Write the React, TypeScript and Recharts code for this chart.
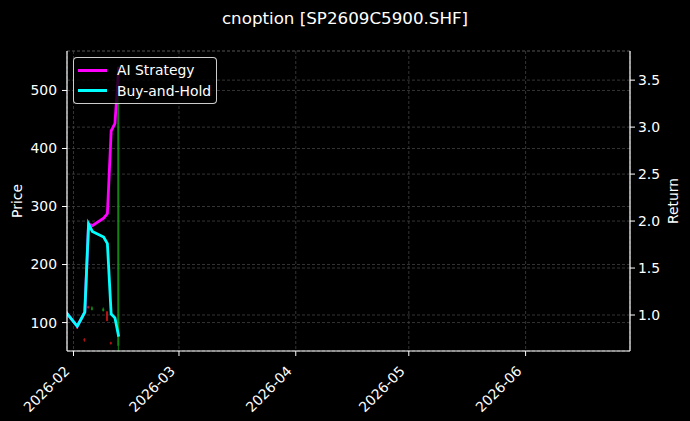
import React from "react";
import {
  ComposedChart,
  Line,
  Bar,
  XAxis,
  YAxis,
  CartesianGrid,
  Legend,
} from "recharts";

// trading days shown in the reference
const tradeDates = [
  "2026-01-30", "2026-02-02", "2026-02-03", "2026-02-04", "2026-02-05", "2026-02-06",
  "2026-02-09", "2026-02-10", "2026-02-11", "2026-02-12", "2026-02-13",
];

// cumulative return (right axis)
const aiReturn = [1.03, 0.88, 0.955, 1.03, 1.97, 1.95, 2.03, 2.08, 2.96, 3.04, 3.64];
const bhReturn = [1.03, 0.88, 0.955, 1.03, 1.97, 1.89, 1.83, 1.76, 1.01, 0.97, 0.77];

// option candles (left axis)
const candleOpen = [116, 92, 104, 72, 128, 122, 120, 119, 66, 109, 60];
const candleHigh = [118, 93, 107, 73, 129, 128, 126, 120, 67, 110, 542];
const candleLow = [113, 89, 103, 67, 124, 121, 119, 102, 62, 106, 45];
const candleClose = [114, 90, 106, 69, 125, 126, 124, 103, 63, 107, 540];

const monthTicks = ["2026-02-01", "2026-03-01", "2026-04-01", "2026-05-01", "2026-06-01"];
const priceTicks = [100, 200, 300, 400, 500];
const returnTicks = [1.0, 1.5, 2.0, 2.5, 3.0, 3.5];

const xDomain = [Date.parse("2026-01-30T06:40:00Z"), Date.parse("2026-06-28T17:00:00Z")];
const priceDomain = [51, 568];
const returnDomain = [0.617, 3.81];

const FONT = "'DejaVu Sans', sans-serif";
const FS = 13.9;
const AI_COLOR = "#ff00ff";
const BH_COLOR = "#00ffff";
const UP_COLOR = "#159a15";
const DOWN_COLOR = "#d01818";
const GRID = "#4a4a4a";

const data = tradeDates.map((d, i) => ({
  t: Date.parse(d + "T00:00:00Z"),
  ai: aiReturn[i],
  bh: bhReturn[i],
  open: candleOpen[i],
  close: candleClose[i],
  range: [candleLow[i], candleHigh[i]],
}));

const monthLabel = (v: number) => {
  const d = new Date(v);
  return `${d.getUTCFullYear()}-${String(d.getUTCMonth() + 1).padStart(2, "0")}`;
};

const Candle = (props: any) => {
  const { x, y, width, height, payload } = props;
  if (!payload || height == null) return null;
  const [lo, hi] = payload.range;
  const top = Math.min(y, y + height);
  const h = Math.abs(height);
  const ppu = h / (hi - lo);
  const up = payload.close >= payload.open;
  const color = up ? UP_COLOR : DOWN_COLOR;
  const cx = x + width / 2;
  const yO = top + (hi - payload.open) * ppu;
  const yC = top + (hi - payload.close) * ppu;
  return (
    <g opacity={0.85}>
      <line x1={cx} x2={cx} y1={top} y2={top + h} stroke={color} strokeWidth={1} />
      <rect
        x={cx - 1}
        y={Math.min(yO, yC)}
        width={2}
        height={Math.max(1, Math.abs(yC - yO))}
        fill={color}
      />
    </g>
  );
};

const DateTick = (props: any) => {
  const { x, y, payload } = props;
  return (
    <g transform={`translate(${x - 3},${y + 14})`}>
      <text
        textAnchor="end"
        transform="rotate(-45)"
        fill="#fff"
        fontSize={FS}
        fontFamily={FONT}
      >
        {monthLabel(payload.value)}
      </text>
    </g>
  );
};

const LegendBox = (props: any) => {
  const items = (props.payload || []).filter(
    (p: any) => p.dataKey === "ai" || p.dataKey === "bh"
  );
  return (
    <div
      style={{
        boxSizing: "border-box",
        width: 144,
        height: 47,
        background: "rgba(0,0,0,0.8)",
        border: "1px solid rgba(255,255,255,0.8)",
        borderRadius: 4,
        padding: "2px 0 0 4px",
        fontFamily: FONT,
        fontSize: FS,
        color: "#fff",
      }}
    >
      {items.map((p: any) => (
        <div
          key={p.dataKey}
          style={{ display: "flex", alignItems: "center", height: 20.6 }}
        >
          <span
            style={{
              display: "inline-block",
              width: 29,
              height: 3,
              background: p.color,
              marginRight: 10,
            }}
          />
          <span>{p.value}</span>
        </div>
      ))}
    </div>
  );
};

export default function App() {
  return (
    <div
      style={{
        position: "absolute",
        left: 0,
        top: 0,
        width: 690,
        height: 421,
        background: "#000",
        fontFamily: FONT,
      }}
    >
      <div
        style={{
          position: "absolute",
          top: 10,
          left: 0,
          width: 690,
          textAlign: "center",
          color: "#fff",
          fontSize: 16.7,
          lineHeight: "17px",
          whiteSpace: "nowrap",
        }}
      >
        cnoption [SP2609C5900.SHF]
      </div>
      <ComposedChart
        width={690}
        height={421}
        data={data}
        margin={{ top: 51, right: 0, bottom: 0, left: 0 }}
      >
        <CartesianGrid
          yAxisId="left"
          stroke={GRID}
          strokeDasharray="3 2"
          strokeWidth={0.7}
        />
        <CartesianGrid
          yAxisId="right"
          vertical={false}
          stroke={GRID}
          strokeDasharray="3 2"
          strokeWidth={0.7}
        />
        <XAxis
          dataKey="t"
          type="number"
          scale="time"
          domain={xDomain}
          allowDataOverflow
          ticks={monthTicks.map((m) => Date.parse(m + "T00:00:00Z"))}
          interval={0}
          tick={<DateTick />}
          height={70}
          stroke="#fff"
          tickSize={5}
          axisLine={{ stroke: "#fff", strokeWidth: 1.2 }}
          tickLine={{ stroke: "#fff" }}
        />
        <XAxis
          xAxisId="top"
          dataKey="t"
          type="number"
          domain={xDomain}
          allowDataOverflow
          orientation="top"
          height={0}
          tick={false}
          tickLine={false}
          axisLine={{ stroke: "#fff", strokeWidth: 1.2 }}
        />
        <YAxis
          yAxisId="left"
          type="number"
          domain={priceDomain}
          allowDataOverflow
          ticks={priceTicks}
          interval={0}
          width={67}
          tickSize={5}
          tickMargin={5}
          axisLine={{ stroke: "#fff", strokeWidth: 1.2 }}
          tickLine={{ stroke: "#fff" }}
          tick={{ fill: "#fff", fontSize: FS, fontFamily: FONT }}
          label={{
            value: "Price",
            angle: -90,
            position: "center",
            dx: -16.5,
            fill: "#fff",
            fontSize: FS,
            fontFamily: FONT,
          }}
        />
        <YAxis
          yAxisId="right"
          orientation="right"
          type="number"
          domain={returnDomain}
          allowDataOverflow
          ticks={returnTicks}
          interval={0}
          tickFormatter={(v: number) => v.toFixed(1)}
          width={60}
          tickSize={5}
          tickMargin={3}
          axisLine={{ stroke: "#fff", strokeWidth: 1.2 }}
          tickLine={{ stroke: "#fff" }}
          tick={{ fill: "#fff", fontSize: FS, fontFamily: FONT }}
          label={{
            value: "Return",
            angle: -90,
            position: "center",
            dx: 13,
            fill: "#fff",
            fontSize: FS,
            fontFamily: FONT,
          }}
        />
        <Bar
          yAxisId="left"
          dataKey="range"
          barSize={3}
          shape={<Candle />}
          legendType="none"
          isAnimationActive={false}
        />
        <Line
          yAxisId="right"
          type="linear"
          dataKey="ai"
          name="AI Strategy"
          stroke={AI_COLOR}
          strokeWidth={2.8}
          dot={false}
          isAnimationActive={false}
        />
        <Line
          yAxisId="right"
          type="linear"
          dataKey="bh"
          name="Buy-and-Hold"
          stroke={BH_COLOR}
          strokeWidth={2.8}
          dot={false}
          isAnimationActive={false}
        />
        <Legend
          layout="horizontal"
          verticalAlign="middle"
          align="center"
          content={<LegendBox />}
          wrapperStyle={{ left: 73, top: 57, width: 144, height: 47 }}
        />
      </ComposedChart>
    </div>
  );
}
